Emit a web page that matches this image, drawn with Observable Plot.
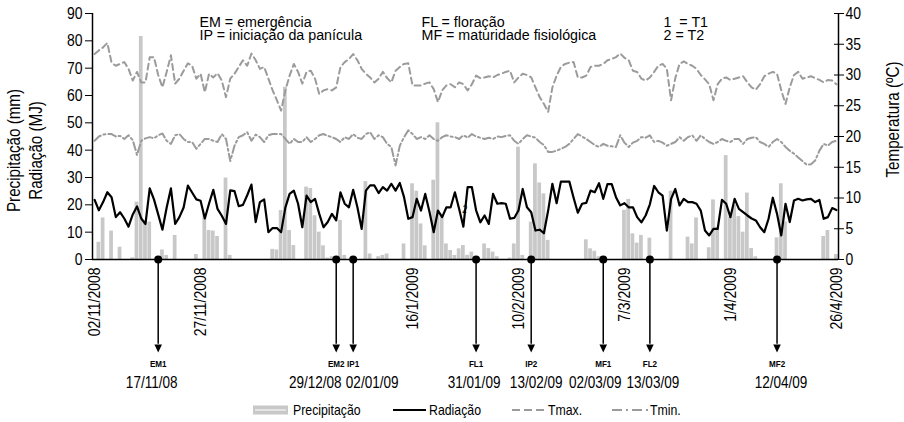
<!DOCTYPE html>
<html><head><meta charset="utf-8">
<script src="https://cdn.jsdelivr.net/npm/d3@7"></script>
<script src="https://cdn.jsdelivr.net/npm/@observablehq/plot@0.6"></script>
<style>
html,body{margin:0;padding:0;background:#fff;}
#chart svg{display:block}
</style></head><body><div id="chart"></div>
<script>
// ---- data (daily, starting 02/11/2008) ----
const startDate = "2008-11-02";
const precipitacao = [0,6.3,15.2,0,10.4,0,4.5,0,0,0.6,21,81.6,14,13.7,0,0,3.5,1.5,0,8.8,
0,0,0,0,1.8,0,16.7,10.6,10.4,8.4,0,29.8,1.5,0,0,0,0,0,0,0,
0,0,3.7,3.5,17.9,63,10.6,5.1,0,0,26.5,26,16,10,5,0.5,1,0,14.3,1.5,
0,0,0,0,28.5,2,0,1,1.5,2,0,0,0,5.7,0,27.7,25,13,5,0,
29,50,16,5.7,3.3,1.5,3.9,5.1,1.5,2.7,1,0,5.7,4,2.7,1,0,0,0.5,5.7,
41.1,1.5,0,13.7,35,28,24,7,0,0,0,0,0,0,0,0,7.2,3.9,3,1,
0,0,0,0,0,18,22,9.4,6,8.8,0,7.8,0,0,0,0,25,0,0,0,
8.2,5.7,15.2,0,0,4.3,21.8,11.8,0,38,15.5,19.8,15.7,10,24.3,4,1,0,0,0,
0,7.9,27.7,13.7,0,0,0,0,0,0,0,0,8.4,10.6,0,1.8];
const radiacao = [21.8,18,21,24.6,22.8,15.5,17.3,15,12,16.5,19.4,15,13,26,22,16.5,10.9,19,26,13,
15.5,19,27,24.5,22,21.5,15,20.5,25.5,18.5,16,13,25.3,25,19.5,20,23.5,27.4,13.7,21,
22,10,11.5,11.5,10,19,24,25.2,20.4,11.8,23.4,21,22.2,16.7,11.8,13.7,16.7,14.3,24.6,20.4,
19.1,25.5,19.1,11.2,25.2,27.1,27.1,24.3,26.5,25.2,27.7,25.2,28,22.8,14.9,15.5,22.2,17.9,24,17.5,
10,17.9,15.5,19.1,19.1,24.6,18.5,12,26.5,26.5,18,13.6,16.1,13,24,20.4,20.6,20.4,14.9,15.2,
17.9,25.8,19.1,17.3,10.6,10.9,9.6,17.9,27.7,20.6,28.5,28.5,28.5,22.6,17.1,20.4,20.7,25.2,24.6,27.9,
22.2,27.6,27.6,22.8,19.8,20.6,19.1,19.1,15.5,13.6,16.1,20.2,26.9,24.6,23.4,10.6,22.2,25.8,19.8,22.2,
21,21,20.4,17.9,10.6,8.8,11.2,11.2,21.8,20.4,15.5,22.2,18.5,17.3,16.1,15,14.3,11.8,10,14.9,
22.6,16.7,8.8,20.4,13.7,21.6,22.2,21.6,22,22.2,21,21.8,14.9,15.5,18.8,18.1];
const tmax = [33.4,34,34.5,35.2,32,31.5,31.8,32.1,31,29.1,30.5,28.8,28.8,32.9,32.9,30,28,30.5,33.2,28.6,
29.4,30.7,31.9,31.5,29.4,30.2,27.2,30.2,29.6,30.3,29.1,26.4,29.4,30.2,31.3,32.4,31.5,33.5,32.4,31,
31.3,29.4,27.5,25.9,24.2,27.5,29.9,31.8,30.5,28.6,30.5,30.7,29.4,26.9,27.5,27.7,27.5,28,31.3,32.1,
32.6,33.4,32.4,31,30.2,29.6,28.8,29.4,30.5,29.5,28.8,30.7,31.3,31.8,31.9,28.3,28.3,28.3,28.6,28.8,
27.7,25.6,27.5,28.3,28.5,28,28.8,28.5,27.5,28.5,29.9,29.5,29.6,29.8,29.6,30,30.2,30.5,30.7,28.8,
29.6,30.2,30,29.6,28,26.4,25.3,24,28,29.9,31.3,31.8,32,32.1,29.6,29.6,29.9,31.3,31.5,31.5,
31.8,32.4,32.6,32.9,33.5,32.8,32.4,30.7,30.5,29.4,29.1,29.6,30.5,31.5,31.8,31,25.9,29.5,31.8,32.2,
31.8,31.5,31,30,29.3,28.5,25.9,28.5,29.4,29.6,29.2,29.4,29.6,29.8,28.8,28,27.6,28.5,29.8,30.2,
30.5,30.2,27.5,25.3,28,30,30.5,29.4,29.6,29.8,29.5,29.2,28.8,29.2,29.1,28.5];
const tmin = [19.3,20,20.3,20.4,20.4,20,20.1,19.6,20.2,19.4,17,19.3,19.7,19.9,19.7,20.2,20.5,19.3,18.8,20.2,
20.4,19.6,19.1,19.1,18,18.8,19.6,19.6,19.3,19.1,20.4,19.6,16,18.5,19.9,20.2,20.7,19.3,20.3,19.9,
19.1,20.2,20.4,20.4,20.4,19.6,18.8,19.6,19.1,19.1,19.9,19.1,19.6,20.2,20.4,20.1,19.9,19.6,19.1,19.9,
19.6,20.4,19.8,19.6,20.4,20.7,19.6,20.2,19.9,18.8,18.3,15.3,18.5,19.9,21,20.4,19.6,19.9,19.6,20.2,
19.6,19.3,19.9,20.2,20,19.9,19.6,20.2,19.8,20.4,20,19.8,19.6,19.8,19.6,20,19.9,20.1,20.2,19.3,
18.8,19.6,20.2,20,19.8,19.1,18.6,17.5,17.5,17.7,18,18.3,18.8,19.6,20.4,20,19.6,19.1,18.6,18.3,
18.8,18.5,18.4,18.3,20.2,19,18.3,19,19.3,19.9,19.8,20.2,19.1,19.3,19,18.5,18.8,19.1,19.9,19.3,
19.9,20.2,19.3,20.2,19.6,19.1,18.8,19.1,19.6,19.3,19.1,19.6,19.6,18.8,19.6,19.8,19.9,19.1,18.8,18.3,
19.1,19.6,19.1,18.3,17.7,17.2,16.6,16,15.4,15.5,16.1,17.7,18.8,18.5,19.1,19.3];
const xTickLabels = ["02/11/2008","27/11/2008","16/1/2009","10/2/2009","7/3/2009","1/4/2009","26/4/2009"];
const eventCodes = ["EM1","EM2","IP1","FL1","IP2","MF1","FL2","MF2"];
const eventDates = ["17/11/08","29/12/08","02/01/09","31/01/09","13/02/09","02/03/09","13/03/09","12/04/09"];
const leftTicks = [0,10,20,30,40,50,60,70,80,90];
const rightTicks = [0,5,10,15,20,25,30,35,40];
const legendTop = [["EM = emergência","IP = iniciação da panícula"],["FL = floração","MF = maturidade fisiológica"],["1  = T1","2 = T2"]];

// ---- helpers ----
const DAY = 864e5;
const t0 = d3.utcParse("%Y-%m-%d")(startDate);
const parseDMY = s => { const [d,m,y] = s.split("/").map(Number); return new Date(Date.UTC(y < 100 ? 2000 + y : y, m - 1, d)); };
const data = precipitacao.map((p, i) => ({date: new Date(+t0 + i*DAY), precip: p, rad: radiacao[i], tmax: tmax[i], tmin: tmin[i]}));
const xDomain = [new Date(+t0 - DAY/2), new Date(+data[data.length-1].date + DAY/2)];
const K = 90/40; // temperature -> left-axis units
const events = eventCodes.map((c, i) => ({code: c, date: parseDMY(eventDates[i]), label: eventDates[i]}));
const nudge = {EM1: -6.5, EM2: -21, IP1: 19, FL1: -2, IP2: 5, MF1: -8, FL2: 3, MF2: 4};
const FONT = "'Liberation Sans',Arial,sans-serif";
const arrowHead = {draw(ctx, size) { const r = Math.sqrt(size/Math.PI), w = r*0.9, h = r*1.9;
  ctx.moveTo(-w, -h/2); ctx.lineTo(w, -h/2); ctx.lineTo(0, h/2); ctx.closePath(); }};
const colX = [107, 329, 571];

const chart = Plot.plot({
  width: 904, height: 422, marginLeft: 92, marginRight: 66, marginTop: 13, marginBottom: 163,
  style: {fontFamily: FONT, background: "white", color: "black"},
  x: {type: "utc", domain: xDomain, axis: null},
  y: {domain: [0, 90]},
  marks: [
    Plot.rect(data, {x1: d => new Date(+d.date - 0.44*DAY), x2: d => new Date(+d.date + 0.44*DAY), y1: 0, y2: "precip", fill: "#c8c8c8"}),
    Plot.line(data, {x: "date", y: d => d.tmax*K, stroke: "#9b9b9b", strokeWidth: 2, strokeDasharray: "6,4"}),
    Plot.line(data, {x: "date", y: d => d.tmin*K, stroke: "#9b9b9b", strokeWidth: 2, strokeDasharray: "8,3,2,3"}),
    Plot.line(data, {x: "date", y: "rad", stroke: "black", strokeWidth: 2.2}),
    Plot.ruleY([0], {stroke: "black", strokeWidth: 1.5}),
    Plot.ruleX([xDomain[0]], {y1: 0, y2: 90, stroke: "black", strokeWidth: 1.5}),
    Plot.ruleX([xDomain[1]], {y1: 0, y2: 90, stroke: "black", strokeWidth: 1.5}),
    Plot.axisY(leftTicks, {anchor: "left", tickSize: 7, tickPadding: 3, fontSize: 17, label: null}),
    Plot.axisY(rightTicks.map(t => t*K), {anchor: "right", tickSize: 10, dx: -5, tickPadding: 2, fontSize: 17, label: null, tickFormat: v => String(Math.round(v/K))}),
    Plot.text(xTickLabels, {x: d => parseDMY(d), y: 0, text: d => d, rotate: -90, textAnchor: "end", dy: 8, fontSize: 17}),
    // event markers
    Plot.ruleX(events, {x: "date", y1: 0, y2: -31, stroke: "black", strokeWidth: 1.5}),
    Plot.dot(events, {x: "date", y: -32.6, symbol: arrowHead, r: 4.2, fill: "black"}),
    Plot.dot(events, {x: "date", y: 0, r: 4, fill: "black"}),
    Plot.text(events, {x: "date", y: 0, dy: 104, text: "code", fontWeight: "bold", fontSize: 9.5}),
    ...events.map(e => Plot.text([e], {x: "date", y: 0, dy: 123.5, dx: nudge[e.code] || 0, text: "label", fontSize: 16.5})),
    // axis titles
    Plot.text(["Precipitação (mm)"], {frameAnchor: "left", dx: -78, dy: 14, rotate: -90, textAnchor: "middle", fontSize: 18.5}),
    Plot.text(["Radiação (MJ)"], {frameAnchor: "left", dx: -56, dy: 14, rotate: -90, textAnchor: "middle", fontSize: 18.5}),
    Plot.text(["Temperatura (ºC)"], {frameAnchor: "right", dx: 55, dy: -17, rotate: -90, textAnchor: "middle", fontSize: 18.5}),
    // top legend
    ...legendTop.flatMap((col, c) => col.map((t, r) => Plot.text([t], {frameAnchor: "top-left", dx: colX[c], dy: 2 + r*13.5, textAnchor: "start", fontSize: 15.5}))),
    Plot.text(["2"], {frameAnchor: "top-left", dx: 370, dy: 192, fontSize: 10, fontStyle: "italic"})
  ]
});
document.getElementById("chart").appendChild(chart);

// bottom legend
const g = d3.select(chart).append("g").attr("font-family", FONT).attr("font-size", 15).attr("fill", "black").attr("text-anchor", "start");
const ly = 410;
g.append("rect").attr("x", 253).attr("y", ly - 4.5).attr("width", 35).attr("height", 9).attr("fill", "#c8c8c8");
g.append("rect").attr("x", 255).attr("y", ly - 1).attr("width", 31).attr("height", 2).attr("fill", "#e4e4e4");
g.append("text").attr("x", 293).attr("y", ly).attr("dy", "0.35em").text("Precipitação");
g.append("line").attr("x1", 393).attr("x2", 426).attr("y1", ly).attr("y2", ly).attr("stroke", "black").attr("stroke-width", 2);
g.append("text").attr("x", 429).attr("y", ly).attr("dy", "0.35em").text("Radiação");
g.append("line").attr("x1", 512).attr("x2", 547).attr("y1", ly).attr("y2", ly).attr("stroke", "#9b9b9b").attr("stroke-width", 2).attr("stroke-dasharray", "8,4");
g.append("text").attr("x", 548).attr("y", ly).attr("dy", "0.35em").text("Tmax.");
g.append("line").attr("x1", 612).attr("x2", 648).attr("y1", ly).attr("y2", ly).attr("stroke", "#9b9b9b").attr("stroke-width", 2).attr("stroke-dasharray", "10,4,2,4");
g.append("text").attr("x", 650).attr("y", ly).attr("dy", "0.35em").text("Tmin.");

// emulate a condensed face: squeeze texts horizontally
const legendSet = new Set(legendTop.flat());
chart.querySelectorAll("text").forEach(el => {
  const w = el.getComputedTextLength();
  if (!(w > 0)) return;
  const f = el.closest('[font-weight="bold"]') ? 0.85 : legendSet.has(el.textContent) ? 0.92 : 0.82;
  el.setAttribute("textLength", (w*f).toFixed(2)); el.setAttribute("lengthAdjust", "spacingAndGlyphs");
});
</script></body></html>
